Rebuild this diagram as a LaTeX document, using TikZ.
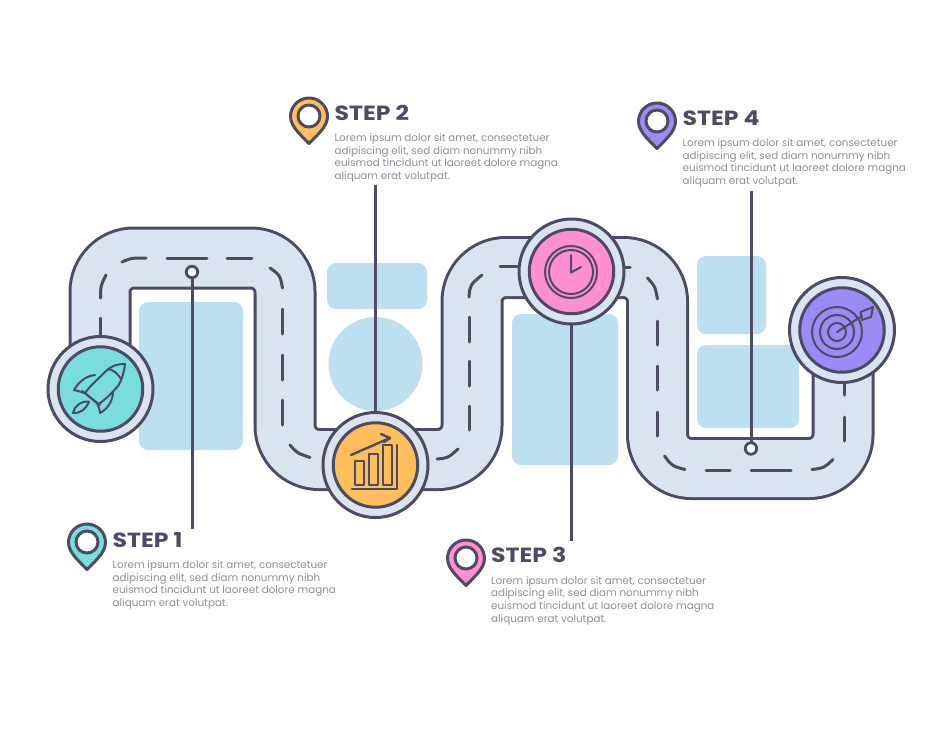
\documentclass[tikz,border=0pt]{standalone}
\usepackage{fontspec}
\setmainfont{Poppins}
\newfontfamily\titlefont{Poppins}[FakeStretch=1.15]
\definecolor{ink}{HTML}{4D4A63}
\definecolor{roadc}{HTML}{DAE4F1}
\definecolor{blok}{HTML}{BDE0F0}
\definecolor{teal}{HTML}{78DDDB}
\definecolor{orng}{HTML}{FFBE5C}
\definecolor{pnk}{HTML}{FF8FD0}
\definecolor{purp}{HTML}{9B8CF5}
\definecolor{bodyc}{HTML}{8F8E9A}
\tikzset{
  blokshape/.style={fill=blok,draw=none,rounded corners=9pt},
  ln/.style={draw=ink,line width=3pt},
  thin/.style={draw=ink,line width=2pt,line join=round,line cap=round},
  dashseg/.style={draw=ink,line width=3pt,line cap=round},
  ring/.style={circle,draw=ink,line width=3pt,fill=roadc,minimum size=105pt,inner sep=0pt},
  hub/.style={circle,draw=ink,line width=3pt,minimum size=84.5pt,inner sep=0pt},
  dotn/.style={circle,draw=ink,line width=2.8pt,fill=white,minimum size=11.5pt,inner sep=0pt},
  title/.style={anchor=base west,inner sep=0pt,text=ink,font=\titlefont\fontsize{20.5}{20.5}\selectfont\bfseries},
  para/.style={anchor=north west,inner sep=0pt,align=left,text=bodyc,font=\fontsize{10.35}{12.7}\selectfont},
}
\newcommand{\lorem}{Lorem ipsum dolor sit amet, consectetuer\\adipiscing elit, sed diam nonummy nibh\\euismod tincidunt ut laoreet dolore magna\\aliquam erat volutpat.}
% pin: x, top y, colour
\newcommand{\pinmark}[3]{%
  \draw[ln,fill=#3,line join=round]
    (#1,#2+46.5) .. controls (#1-7,#2+39) and (#1-18.5,#2+30) .. (#1-18.5,#2+19.5)
    arc[start angle=180,end angle=0,radius=18.5pt]
    .. controls (#1+18.5,#2+30) and (#1+7,#2+39) .. (#1,#2+46.5) -- cycle;
  \draw[ln,fill=white] (#1,#2+19) circle[radius=11pt];
}
\begin{document}
\begin{tikzpicture}[x=1pt,y=-1pt]
\useasboundingbox (0,0) rectangle (950,731);
% pale blocks
\fill[blokshape] (139,302) rectangle (243,450);
\fill[blokshape] (327,263) rectangle (427,309);
\fill[blok] (375.5,364) circle[radius=47pt];
\fill[blokshape] (512,314) rectangle (618,465);
\fill[blokshape] (697,256) rectangle (766,334);
\fill[blokshape] (697,345) rectangle (799,428);
% road
\def\roadpath{(100,390) -- (100,258) -- (285,258) -- (285,459.5) -- (472,459.5) -- (472,267.5) -- (657.5,267.5) -- (657.5,468.5) -- (843,468.5) -- (843,330)}
\draw[ink,line width=63pt,rounded corners=34pt] \roadpath;
\draw[roadc,line width=57pt,rounded corners=34pt] \roadpath;
% centre line dashes
\draw[dashseg] (100.5,340) -- (100.5,318);
\draw[dashseg] (100.5,298) .. controls (100.5,286) .. (106,275);
\draw[dashseg] (122,262) .. controls (131,258) .. (146,258);
\draw[dashseg] (167,258) -- (207,258);
\draw[dashseg] (227,258) -- (252,258);
\draw[dashseg] (270,268) .. controls (280,275) .. (282.5,288);
\draw[dashseg] (282.5,309) -- (282.5,334);
\draw[dashseg] (282.5,355) -- (282.5,380);
\draw[dashseg] (282.5,400) -- (282.5,425);
\draw[dashseg] (290,445) .. controls (297,453) .. (310,457.5);
\draw[dashseg] (437,459) .. controls (448,458) .. (458,449);
\draw[dashseg] (469,406) -- (469,430);
\draw[dashseg] (469,361) -- (469,386);
\draw[dashseg] (469,317) -- (469,342);
\draw[dashseg] (469,297) .. controls (470,285) .. (482,275);
\draw[dashseg] (500,266.5) -- (525,266.5);
\draw[dashseg] (615,267) -- (630,267);
\draw[dashseg] (647.5,278) .. controls (655,286) .. (657.5,299);
\draw[dashseg] (657.5,321) -- (657.5,345);
\draw[dashseg] (657.5,366) -- (657.5,390);
\draw[dashseg] (657.5,412) -- (657.5,436);
\draw[dashseg] (664.5,456) .. controls (672,466) .. (685,469.5);
\draw[dashseg] (706,470) -- (730,470);
\draw[dashseg] (751,470) -- (791,470);
\draw[dashseg] (812,469.5) .. controls (824,468) .. (833,459.5);
\draw[dashseg] (844,417) -- (844,441);
\draw[dashseg] (844,375) -- (844,395);
% anchors
\coordinate (e1) at (192,529);
\coordinate (e2) at (375.5,185);
\coordinate (e3) at (571.5,541);
\coordinate (e4) at (751,191);
\coordinate (h1) at (100.5,389);
\coordinate (h2) at (375.5,465);
\coordinate (h3) at (571.5,271.5);
\coordinate (h4) at (842,330);
\coordinate (q1) at (192,272);
\coordinate (q4) at (751,448.5);
% leaders
\draw[ln] (q1) -- (e1);
\draw[ln] (e2) -- (h2);
\draw[ln] (h3) -- (e3);
\draw[ln] (e4) -- (q4);
\node[dotn] (d1) at (q1) {};
\node[dotn] (d4) at (q4) {};
% hubs
\node[ring] (r1) at (h1) {};
\node[hub,fill=teal] (c1) at (h1) {};
\node[ring] (r2) at (h2) {};
\node[hub,fill=orng] (c2) at (h2) {};
\node[ring] (r3) at (h3) {};
\node[hub,fill=pnk] (c3) at (h3) {};
\node[ring] (r4) at (h4) {};
\node[hub,fill=purp] (c4) at (h4) {};
% rocket
\draw[thin] (125,364) .. controls (115,364) and (110,367) .. (105,372) .. controls (97,380) and (90,386) .. (85,393)
  -- (98.3,404.3) .. controls (106,399) and (112,393) .. (118,386) .. controls (122,380) and (124,372) .. (125,364) -- cycle;
\draw[thin] (108,369) .. controls (114,370) and (118,374) .. (121,379);
\draw[thin] (95,375) .. controls (85,376) and (78,383) .. (74,390) .. controls (78,391) and (81,391.5) .. (84,393);
\draw[thin] (113,392) .. controls (113,400) and (108,409) .. (100,413) .. controls (100,409) and (98,406) .. (97,403);
\draw[thin] (82,391) -- (100,405);
\draw[thin] (89,401.5) .. controls (81,401) and (74,406) .. (73,413) .. controls (80,414) and (86,409) .. (89,401.5) -- cycle;
% chart
\draw[thin,line width=2.4pt] (351,455) -- (390,438) -- (381,434);
\draw[thin,line width=2.4pt] (390,438) -- (384,442);
\draw[thin,line width=2.4pt] (355,461) rectangle (364,485);
\draw[thin,line width=2.4pt] (369,454) rectangle (378,485);
\draw[thin,line width=2.4pt] (383,445) rectangle (392,485);
\draw[thin,line width=2.4pt] (397,445) -- (397,489) -- (352,489);
% clock
\draw[thin] (571,272) circle[radius=26pt];
\draw[thin] (571,272) circle[radius=22pt];
\draw[thin] (571,255) -- (571,272.5) -- (581,267);
% target
\draw[thin] (837,332) circle[radius=25pt];
\draw[thin] (837,332) circle[radius=17pt];
\draw[thin] (837,332) circle[radius=9pt];
\draw[thin] (837,332) -- (862,316);
\draw[thin] (860.5,312) -- (873,307) -- (871,317) -- (862,320) -- cycle;
% pins and texts
\pinmark{87}{523}{teal}
\pinmark{309}{97}{orng}
\pinmark{466}{539}{pnk}
\pinmark{657}{102}{purp}
\node[title] (t1) at (112.5,547) {STEP 1};
\node[para] (p1) at (112.5,560.5) {\lorem};
\node[title] (t2) at (334.5,120) {STEP 2};
\node[para] (p2) at (334.5,133.5) {\lorem};
\node[title] (t3) at (491,562.5) {STEP 3};
\node[para] (p3) at (491,576) {\lorem};
\node[title] (t4) at (682.5,125) {STEP 4};
\node[para] (p4) at (682.5,138.5) {\lorem};
\end{tikzpicture}
\end{document}
